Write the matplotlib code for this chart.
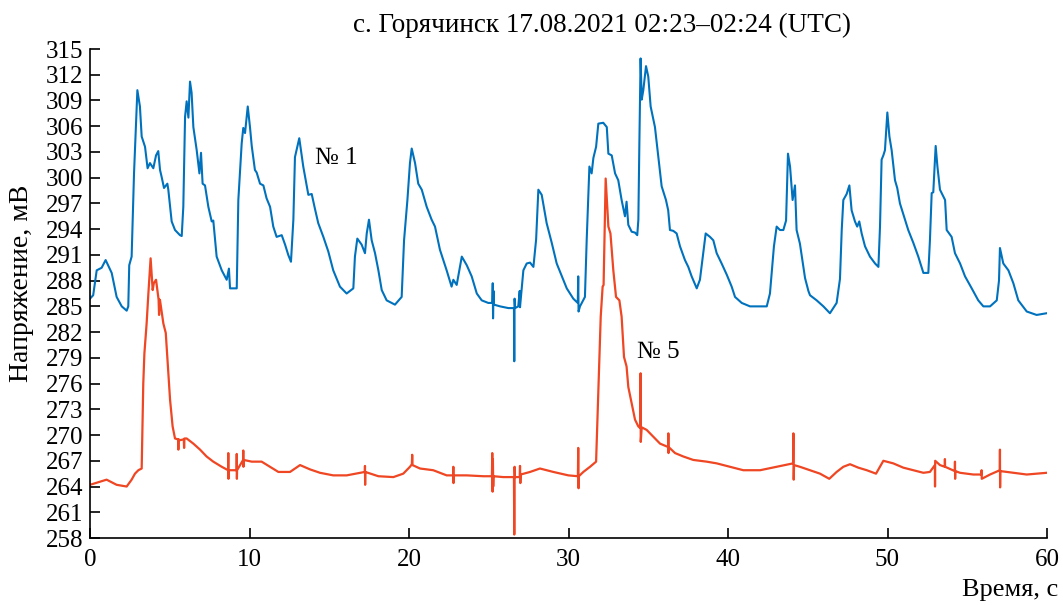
import matplotlib
matplotlib.use("Agg")
import matplotlib.pyplot as plt

# ---- data (time, s ; voltage, mV) ----
t1 = [0.0, 0.2, 0.42, 0.73, 0.98, 1.36, 1.67, 1.99, 2.30, 2.40, 2.46, 2.61, 2.76, 2.97, 3.13, 3.24, 3.45,
      3.61, 3.76, 3.97, 4.14, 4.28, 4.39, 4.49, 4.64, 4.85, 4.91, 5.12, 5.33, 5.64, 5.75, 5.85, 5.96, 6.06,
      6.17, 6.27, 6.37, 6.48, 6.69, 6.86, 6.96, 7.06, 7.21, 7.42, 7.63, 7.73, 7.94, 8.26, 8.57, 8.71, 8.78,
      9.20, 9.30, 9.51, 9.61, 9.72, 9.89, 10.03, 10.14, 10.34, 10.45, 10.66, 10.87, 11.07, 11.29, 11.49,
      11.70, 12.02, 12.23, 12.43, 12.60, 12.75, 12.85, 13.12, 13.37, 13.69, 13.90, 14.10, 14.31, 14.63,
      14.94, 15.25, 15.67, 16.09, 16.51, 16.61, 16.76, 17.03, 17.24, 17.35, 17.49, 17.66, 17.87, 18.08,
      18.29, 18.60, 19.12, 19.54, 19.69, 19.90, 20.06, 20.17, 20.38, 20.58, 20.80, 21.11, 21.42, 21.63,
      21.94, 22.36, 22.67, 22.78, 22.99, 23.31, 23.62, 23.93, 24.25, 24.56, 24.97, 25.22, 25.25, 25.27,
      25.30, 25.33, 25.71, 26.23, 26.58, 26.60, 26.62, 26.65, 26.85, 26.94, 26.96, 27.17, 27.38, 27.59,
      27.80, 27.97, 28.11, 28.32, 28.63, 28.95, 29.26, 29.67, 29.89, 30.30, 30.58, 30.61, 30.63, 30.72,
      31.03, 31.14, 31.31, 31.45, 31.56, 31.73, 31.87, 32.18, 32.40, 32.50, 32.71, 32.92, 33.12, 33.33,
      33.54, 33.64, 33.75, 33.96, 34.17, 34.31, 34.38, 34.44, 34.52, 34.59, 34.69, 34.86, 35.00, 35.15,
      35.42, 35.63, 35.84, 36.11, 36.25, 36.36, 36.57, 36.78, 36.99, 37.30, 37.51, 37.72, 38.04, 38.24,
      38.45, 38.60, 38.87, 39.08, 39.29, 39.60, 39.92, 40.23, 40.44, 40.86, 41.38, 42.00, 42.43, 42.63,
      42.88, 43.05, 43.26, 43.47, 43.64, 43.76, 43.89, 44.05, 44.20, 44.30, 44.51, 44.83, 45.04, 45.14,
      45.56, 45.98, 46.39, 46.81, 47.02, 47.13, 47.23, 47.44, 47.61, 47.75, 47.96, 48.10, 48.23, 48.38,
      48.59, 48.90, 49.22, 49.43, 49.53, 49.63, 49.74, 49.84, 49.99, 50.12, 50.26, 50.47, 50.61, 50.78,
      51.10, 51.30, 51.62, 51.93, 52.25, 52.56, 52.66, 52.77, 52.87, 53.02, 53.13, 53.29, 53.61, 53.71,
      54.02, 54.23, 54.55, 54.86, 55.28, 55.69, 56.01, 56.43, 56.85, 56.99, 57.05, 57.26, 57.58, 57.89,
      58.20, 58.73, 59.35, 59.98]
v1 = [285.9, 286.3, 289.2, 289.5, 290.4, 288.9, 286.1, 285.0, 284.5, 285.0, 289.8, 290.8, 300.5, 310.2,
      308.3, 304.8, 303.6, 301.1, 301.7, 301.1, 302.6, 303.1, 300.9, 300.1, 298.8, 299.3, 298.6, 294.9,
      293.9, 293.3, 293.2, 296.6, 307.1, 308.9, 307.0, 311.2, 309.9, 305.9, 303.2, 300.5, 302.9, 299.3,
      299.1, 296.6, 294.9, 295.0, 290.8, 289.2, 288.1, 289.4, 287.1, 287.1, 297.4, 304.0, 305.8, 305.2,
      308.3, 305.9, 303.7, 300.9, 300.6, 299.3, 299.1, 297.6, 296.6, 294.3, 293.1, 293.3, 292.2, 291.0,
      290.2, 295.1, 302.4, 304.6, 301.3, 298.0, 298.1, 296.4, 294.7, 293.1, 291.4, 289.2, 287.3, 286.5,
      287.1, 290.8, 292.9, 292.2, 291.2, 293.5, 295.1, 292.7, 291.2, 289.2, 286.9, 285.7, 285.2, 286.1,
      292.7, 297.4, 301.7, 303.4, 301.7, 299.3, 298.6, 296.6, 295.1, 294.3, 291.6, 289.2, 287.3, 288.1,
      287.5, 290.8, 289.8, 288.5, 286.5, 285.7, 285.4, 285.4, 287.7, 283.6, 286.8, 285.2, 285.0, 284.8,
      284.8, 278.6, 285.9, 284.8, 285.0, 286.8, 284.9, 289.2, 290.0, 290.1, 289.6, 292.8, 298.6, 298.0,
      294.7, 292.4, 290.0, 288.1, 287.1, 285.9, 285.4, 288.5, 284.4, 285.0, 286.1, 292.7, 301.3, 300.5,
      302.3, 303.6, 306.3, 306.4, 305.9, 302.8, 302.6, 300.5, 299.7, 297.4, 295.5, 297.2, 294.5, 293.7,
      293.6, 293.3, 295.1, 303.6, 313.9, 309.1, 310.2, 313.0, 311.8, 308.3, 305.9, 302.4, 299.0, 297.4,
      296.2, 293.9, 293.8, 293.5, 292.0, 290.4, 289.6, 288.5, 287.1, 288.1, 291.2, 293.5, 293.1, 292.7,
      291.2, 290.0, 288.7, 287.3, 286.1, 285.4, 285.0, 285.0, 285.0, 286.5, 292.0, 294.3, 293.9, 293.9,
      295.0, 302.8, 301.3, 297.4, 299.1, 293.9, 292.3, 288.3, 286.8, 286.3, 285.7, 285.0, 284.2, 285.4,
      288.2, 293.9, 297.4, 298.1, 299.1, 296.2, 294.9, 294.3, 294.9, 293.5, 292.0, 290.8, 290.0, 289.6,
      294.3, 302.1, 302.6, 303.2, 307.6, 304.8, 303.2, 299.7, 298.8, 297.0, 295.1, 293.9, 292.4, 290.8,
      288.9, 288.9, 292.7, 298.2, 298.3, 303.7, 301.3, 298.6, 297.4, 293.9, 293.1, 291.2, 290.0, 288.5,
      287.1, 285.7, 285.0, 285.0, 285.7, 288.0, 291.8, 290.0, 289.2, 287.7, 285.7, 284.4, 284.0, 284.2]

t5 = [0.0, 1.04, 1.67, 2.30, 2.61, 2.82, 3.03, 3.24, 3.34, 3.41, 3.55, 3.66, 3.80, 3.93, 4.00, 4.14, 4.30,
      4.33, 4.36, 4.39, 4.60, 4.75, 4.87, 5.02, 5.18, 5.33, 5.52, 5.54, 5.56, 5.64, 5.88, 5.90, 5.92, 6.06,
      6.48, 6.90, 7.31, 7.73, 8.26, 8.66, 8.67, 8.68, 8.69, 9.19, 9.20, 9.21, 9.22, 9.60, 9.61, 9.62, 9.63,
      10.14, 10.76, 11.29, 11.81, 12.54, 13.17, 13.79, 14.42, 15.25, 16.09, 17.23, 17.24, 17.25, 17.26,
      18.08, 19.02, 19.64, 20.06, 20.18, 20.20, 20.22, 20.69, 21.52, 22.36, 22.77, 22.78, 22.79, 22.80,
      23.62, 24.66, 25.20, 25.22, 25.24, 25.26, 25.28, 25.30, 25.91, 26.58, 26.60, 26.62, 26.64, 26.94,
      26.96, 26.98, 27.00, 27.59, 28.21, 29.05, 29.99, 30.59, 30.61, 30.63, 30.65, 30.93, 31.35, 31.73,
      31.87, 32.02, 32.14, 32.20, 32.33, 32.50, 32.63, 32.81, 32.98, 33.19, 33.33, 33.48, 33.64, 33.75,
      33.96, 34.17, 34.38, 34.51, 34.52, 34.53, 34.59, 34.90, 35.32, 35.74, 36.25, 36.26, 36.27, 36.28,
      36.68, 37.20, 37.82, 38.66, 39.29, 40.13, 40.96, 42.01, 43.05, 44.08, 44.10, 44.12, 44.14, 44.51,
      45.14, 45.77, 46.35, 46.81, 47.23, 47.65, 48.17, 48.70, 49.28, 49.74, 50.36, 50.99, 51.62, 52.25,
      52.66, 52.97, 52.98, 52.99, 53.29, 53.59, 53.60, 53.61, 54.22, 54.23, 54.24, 54.25, 54.55, 55.38,
      55.89, 55.90, 55.91, 56.43, 57.04, 57.05, 57.06, 57.07, 57.89, 58.73, 59.98]
v5 = [264.2, 264.8, 264.2, 264.0, 264.8, 265.5, 265.9, 266.1, 276.0, 279.5, 283.0, 286.5, 290.6, 286.9,
      287.7, 288.1, 285.8, 284.0, 285.8, 285.7, 283.0, 281.9, 278.4, 274.1, 271.0, 269.6, 269.5, 268.3,
      269.5, 269.4, 269.5, 268.5, 269.6, 269.6, 269.0, 268.3, 267.5, 266.9, 266.3, 265.9, 267.9, 264.9,
      265.9, 265.9, 267.8, 264.9, 265.9, 267.1, 268.2, 266.3, 267.1, 266.9, 266.9, 266.3, 265.7, 265.7,
      266.5, 266.0, 265.6, 265.3, 265.3, 265.7, 266.4, 264.2, 265.7, 265.2, 265.1, 265.5, 266.3, 266.6,
      267.7, 266.5, 266.1, 265.9, 265.3, 265.3, 266.3, 264.4, 265.3, 265.3, 265.2, 265.2, 267.9, 263.4,
      267.2, 264.0, 265.2, 265.1, 265.1, 258.4, 266.3, 265.1, 265.1, 266.4, 264.4, 265.4, 265.7, 266.1,
      265.7, 265.3, 265.2, 268.5, 263.8, 265.2, 265.7, 266.3, 266.9, 274.9, 283.8, 287.3, 287.5, 299.9,
      294.3, 293.5, 289.2, 286.1, 285.7, 283.8, 279.1, 278.0, 275.6, 273.7, 271.8, 271.0, 270.8, 277.2,
      269.2, 270.9, 270.6, 269.8, 269.0, 268.6, 270.2, 267.9, 268.6, 267.9, 267.5, 267.1, 266.9, 266.7,
      266.3, 265.9, 265.9, 266.3, 266.7, 270.2, 264.8, 266.5, 266.3, 265.9, 265.5, 264.9, 265.7, 266.3,
      266.6, 266.2, 265.9, 265.5, 267.0, 266.7, 266.2, 265.9, 265.6, 265.7, 266.5, 264.0, 267.0, 266.5,
      266.3, 267.2, 266.3, 265.8, 266.9, 264.9, 265.8, 265.6, 265.4, 265.4, 265.9, 264.9, 265.4, 265.9,
      268.3, 263.9, 265.8, 265.6, 265.4, 265.6]

y_ticks = list(range(258, 316, 3))
x_ticks = [0, 10, 20, 30, 40, 50, 60]
title = "с. Горячинск 17.08.2021 02:23–02:24 (UTC)"
ylabel = "Напряжение, мВ"
xlabel = "Время, с"
label1 = "№ 1"
label5 = "№ 5"

plt.rcParams['font.family'] = ['Liberation Serif', 'DejaVu Serif']

fig = plt.figure(figsize=(10.63, 6.05), dpi=100)
ax = fig.add_axes([90/1063, 1-538/605, (1047-90)/1063, (538-49)/605])

ax.plot(t1, v1, color='#0072BD', lw=1.5)
ax.plot(t5, v5, color='#EF4623', lw=1.6)

ax.set_xlim(0, 60)
ax.set_ylim(258, 315)
ax.set_yticks(y_ticks)
ax.set_xticks(x_ticks)
ax.tick_params(direction='in', length=7, width=1.2, labelsize=18, pad=5)
ax.tick_params(axis='x', pad=8)
for s in ['top', 'right']:
    ax.spines[s].set_visible(False)
for s in ['left', 'bottom']:
    ax.spines[s].set_linewidth(1.2)

ax.text(14.1, 302.3, label1, fontsize=18, va='center', ha='left')
ax.text(34.3, 279.7, label5, fontsize=18, va='center', ha='left')

fig.text(602/1063, 1-25/605, title, fontsize=19.5, ha='center', va='center')
fig.text(1058/1063, 1-590/605, xlabel, fontsize=19, ha='right', va='center')
fig.text(22/1063, 1-283/605, ylabel, fontsize=20, ha='center', va='center', rotation=90)

fig.savefig('out.png', dpi=100)
